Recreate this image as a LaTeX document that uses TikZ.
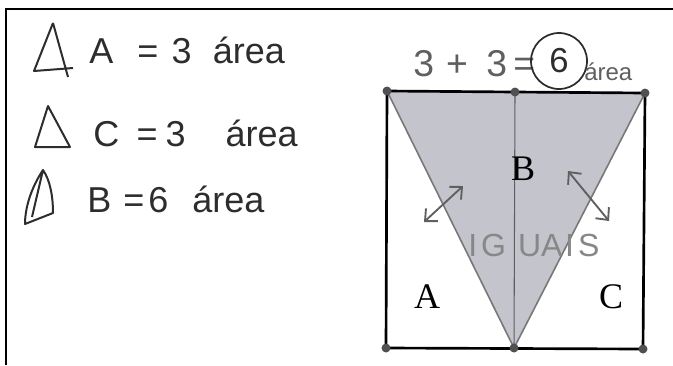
\documentclass[tikz,border=0pt]{standalone}
\usepackage{fontspec}
\usepackage{xcolor}
\usepackage{tikz}
\usetikzlibrary{arrows.meta, positioning}
\setmainfont{Liberation Serif}
\newfontfamily\handfont{Liberation Sans}
\definecolor{PencilDark}{RGB}{45,45,45}
\definecolor{PencilMid}{RGB}{95,95,95}
\definecolor{PencilLight}{RGB}{135,135,135}
\definecolor{ShadeFill}{RGB}{196,196,204}
\definecolor{EdgeGrey}{RGB}{120,120,120}
\definecolor{DotGrey}{RGB}{80,80,80}

\tikzset{
  hand/.style={inner sep=0pt, anchor=base west, text=PencilDark,
               font=\handfont\fontsize{27}{30}\selectfont},
  sumtext/.style={hand, text=PencilMid, font=\handfont\fontsize{28}{30}\selectfont},
  regionlabel/.style={inner sep=0pt, font=\fontsize{27}{29}\selectfont},
  corner/.style={fill=DotGrey, draw=none},
  hwarrow/.style={draw=PencilMid, line width=1.4pt,
                  {Straight Barb[length=7pt, width=13pt]}-{Straight Barb[length=7pt, width=13pt]}},
  icon/.style={draw=PencilDark, line width=1.5pt, line join=round}
}

\begin{document}
\begin{tikzpicture}[x=0.75pt, y=-0.75pt]
  \useasboundingbox (0,0) rectangle (673,365);
  % scan frame
  \draw[black, line width=2pt] (6,365) -- (6,9) -- (673,9);

  % handwritten notes
  \draw[icon] (53,23) -- (34,71) -- (73,68) (53,23) -- (68,77);
  \node[hand] (hA) at (89,63) {A\hspace{18pt}=\hspace{10pt}3\hspace{16pt}área};
  \draw[icon] (48,106) -- (35,147) -- (70,147) -- cycle;
  \node[hand] (hC) at (93,146) {C\hspace{13pt}=\hspace{6pt}3\hspace{30pt}área};
  \draw[icon] (43,170) .. controls (31,188) and (25,208) .. (25,224) -- (53,213)
    .. controls (53,196) and (50,180) .. (43,170) -- (32,217);
  \node[hand] (hB) at (87,212) {B\hspace{9pt}=\hspace{3pt}6\hspace{18pt}área};

  % square and triangles
  \coordinate (TL) at (387,91);
  \coordinate (TM) at (515,92);
  \coordinate (TR) at (645,93);
  \coordinate (BL) at (386,348);
  \coordinate (BM) at (514,348);
  \coordinate (BR) at (643,349);
  \fill[ShadeFill] (TL) -- (TR) -- (BM) -- cycle;
  \draw[EdgeGrey, line width=1.2pt] (TL) -- (BM) -- (TR);
  \draw[PencilMid, line width=0.8pt] (TM) -- (BM);
  \draw[black, line width=2pt] (BL) -- (TL) -- (TR) -- (BR) -- cycle;
  \foreach \c in {TL, TM, TR, BL, BM, BR}
    \fill[corner] (\c) circle (4.5);

  \node[regionlabel] (labB) at (523,169) {B};
  \node[regionlabel] (labA) at (427,297) {A};
  \node[regionlabel] (labC) at (611,297) {C};

  % sum above the square
  \node[sumtext] (sum) at (413,76) {3\hspace{9pt}+\hspace{14pt}3\hspace{4.5pt}=};
  \node[draw=PencilDark, line width=1.3pt, circle, minimum size=42pt, inner sep=0pt,
        text=PencilDark, font=\handfont\fontsize{26}{28}\selectfont] (six) at (559,61) {6};
  \node[hand, text=PencilMid, font=\handfont\fontsize{18}{20}\selectfont] (sumarea) at (584,80) {área};

  % arrows and IGUAIS
  \coordinate (la1) at (424,222);
  \coordinate (la2) at (463,186);
  \coordinate (ra1) at (568,171);
  \coordinate (ra2) at (609,221);
  \draw[hwarrow] (la1) -- (la2);
  \draw[hwarrow] (ra1) -- (ra2);
  \node[hand, text=PencilLight, font=\handfont\fontsize{24}{26}\selectfont] (igual) at (468,256)
    {I\kern3pt G\kern9pt U\kern0pt A\kern2pt I\kern3pt S};
\end{tikzpicture}
\end{document}
